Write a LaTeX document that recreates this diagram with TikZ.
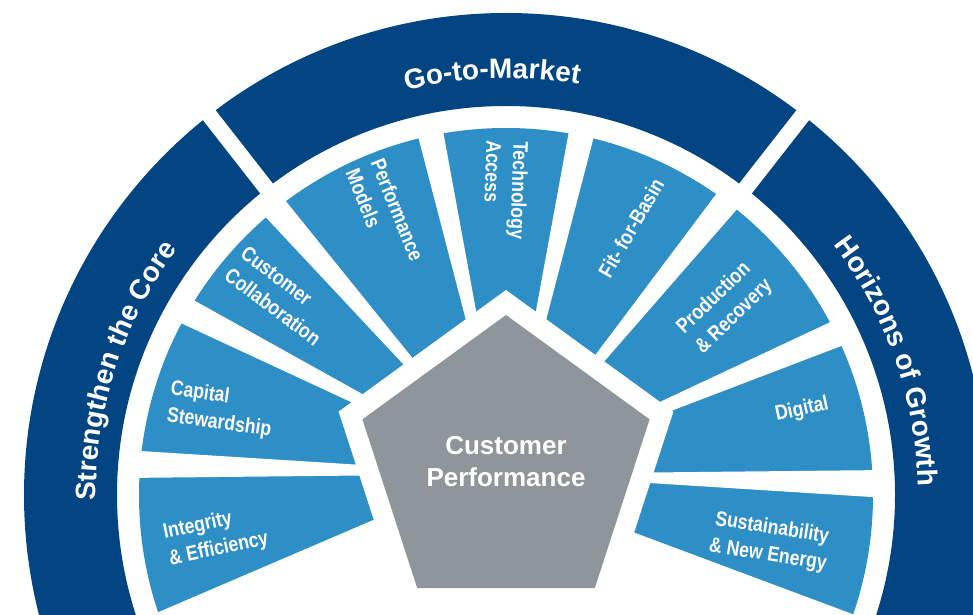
\documentclass[tikz,border=0pt]{standalone}
\usepackage{fontspec}
\setmainfont{Liberation Sans}
\newfontfamily\condfont{Liberation Sans}[FakeStretch=0.84]
\usetikzlibrary{shapes.geometric,decorations.text,calc}
\definecolor{ringblue}{RGB}{3,68,130}
\definecolor{segblue}{RGB}{46,142,198}
\definecolor{coregray}{RGB}{142,149,155}
\begin{document}
\begin{tikzpicture}[x=1pt,y=1pt,
    seg/.style={text=white,inner sep=0pt,font=\condfont\bfseries\fontsize{21}{27}\selectfont},
    ringtext/.style={decorate,decoration={text along path,text align=center,
        text={|\color{white}\bfseries\fontsize{28}{30}\selectfont|#1}}},
    penta/.style={regular polygon,regular polygon sides=5,inner sep=0pt,minimum size=#1}]
  \useasboundingbox (0,0) rectangle (973,614);
  \clip (0,0) rectangle (973,614);
  \coordinate (C) at (506,119);
  \coordinate (Q) at (506,140);
  \coordinate (bl1) at (163,4); \coordinate (bl2) at (373,94);
  \coordinate (br1) at (633,82); \coordinate (br2) at (850,1);
  \begin{scope}
    \clip (intersection of bl1--bl2 and br1--br2) -- ($(bl2)!3!(bl1)$) -- (-300,700)
      -- (1300,700) -- ($(br1)!3!(br2)$) -- cycle;
    \fill[segblue] (C) circle[radius=367];
  \end{scope}
  \foreach \a in {178.5,153,131,102.5,77.5,51,23,-1.5}
    \fill[white] (Q) -- ++(\a-2.1:370) -- ($(Q)+(\a+2.1:370)$) -- cycle;
  \fill[ringblue,even odd rule] (C) circle[radius=482] (C) circle[radius=389];
  \foreach \a in {52,128}
    \draw[white,line width=16pt] ($(C)+(\a:375)$) -- ($(C)+(\a:500)$);
  \node[penta=352pt,fill=white] (halo) at (506,148) {};
  \node[penta=302pt,fill=coregray] (core) at (506,148) {};
  \node[text=white,align=center,font=\bfseries\fontsize{26}{32}\selectfont]
    (corelabel) at ($(core)+(0,4)$) {Customer\\Performance};
  \path[ringtext={Strengthen the Core}] (C) ++(202:410) arc[start angle=202,end angle=122,radius=410];
  \path[ringtext={Go-to-Market}] (C) ++(131.9:417) arc[start angle=131.9,end angle=51.9,radius=417];
  \path[ringtext={Horizons of Growth}] (C) ++(59.3:412) arc[start angle=59.3,end angle=-20.7,radius=412];
  \node[seg,rotate=12,align=left] (integrity) at (216,78) {Integrity\\\& Efficiency};
  \node[seg,rotate=-8,align=left] (capital) at (221,204) {Capital\\Stewardship};
  \node[seg,rotate=-37,align=left] (collab) at (281,318) {Customer\\Collaboration};
  \node[seg,rotate=-68,align=left] (models) at (385,399) {Performance\\Models};
  \node[seg,rotate=-92,align=left] (tech) at (506,424) {Technology\\Access};
  \node[seg,rotate=60] (basin) at (631,386) {Fit- for-Basin};
  \node[seg,rotate=44,align=left] (recovery) at (725,307) {Production\\\& Recovery};
  \node[seg,rotate=12] (digital) at (802,204) {Digital};
  \node[seg,rotate=-9,align=center] (energy) at (770,72) {Sustainability\\\& New Energy};
\end{tikzpicture}
\end{document}
